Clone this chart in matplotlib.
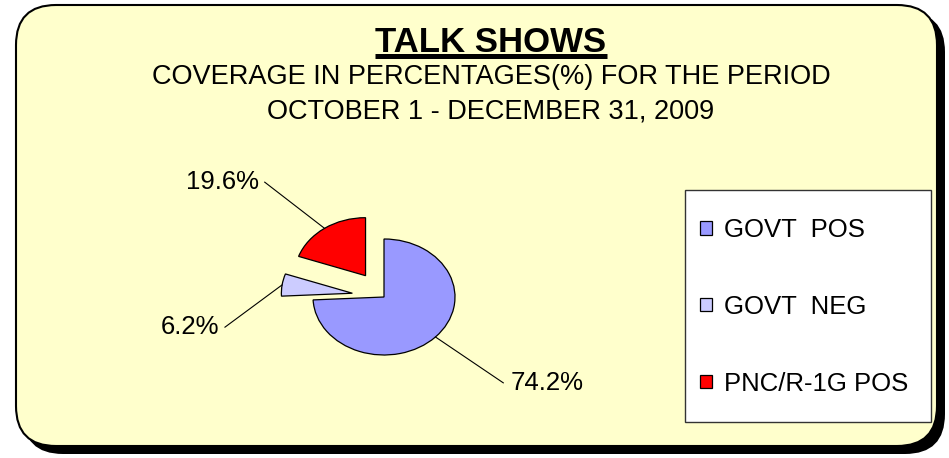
import numpy as np
import matplotlib
matplotlib.use("Agg")
import matplotlib.pyplot as plt
from matplotlib.patches import FancyBboxPatch, Rectangle

# data
categories = ["GOVT  POS", "GOVT  NEG", "PNC/R-1G POS"]
shares = [74.2, 6.2, 19.6]
share_labels = ["74.2%", "6.2%", "19.6%"]
colors = ["#9999FF", "#CCCCFF", "#FF0000"]
explode = [0, 0.45, 0.45]

title = "TALK SHOWS"
subtitle = ["COVERAGE IN PERCENTAGES(%) FOR THE PERIOD",
            "OCTOBER 1 - DECEMBER 31, 2009"]

# where the leader lines of the labels end (pie data units)
label_ends = [(1.68, -1.48), (-2.24, -0.52), (-1.68, 1.98)]

plt.rcParams["font.family"] = ["Liberation Sans", "DejaVu Sans"]

W, H = 949, 458
fig = plt.figure(figsize=(W / 100, H / 100), dpi=100)
fig.patch.set_facecolor("white")

# background axes in pixel coordinates
bg = fig.add_axes([0, 0, 1, 1])
bg.set_xlim(0, W)
bg.set_ylim(H, 0)
bg.axis("off")

bg.add_patch(FancyBboxPatch((23, 12), 922, 442, boxstyle="round,pad=0,rounding_size=40",
                            fc="black", ec="black", lw=0))
bg.add_patch(FancyBboxPatch((16, 5), 921, 441, boxstyle="round,pad=0,rounding_size=40",
                            fc="#FFFFCC", ec="black", lw=1.5))
bg.add_patch(Rectangle((685, 190), 246, 232, fc="white", ec="#333333", lw=1))

t = bg.text(491, 42, title, ha="center", va="center", fontsize=25, fontweight="bold")
bg.text(491, 77, subtitle[0], ha="center", va="center", fontsize=19.5)
bg.text(491, 112, subtitle[1], ha="center", va="center", fontsize=19.5)

# pie axes: 71 px per unit across, 58 px per unit up
cx, cy = 384, 297
ux, uy = 71, 58
xr, yr = 3.0, 2.6
ax = fig.add_axes([(cx - xr * ux) / W, (H - cy - yr * uy) / H, 2 * xr * ux / W, 2 * yr * uy / H])
wedges, _ = ax.pie(shares, colors=colors, explode=explode, startangle=90, counterclock=False,
                   wedgeprops=dict(edgecolor="black", linewidth=0.9))
ax.set_aspect("auto")
ax.set_xlim(-xr, xr)
ax.set_ylim(-yr, yr)

for w, lab, (ex, ey) in zip(wedges, share_labels, label_ends):
    mid = np.deg2rad((w.theta1 + w.theta2) / 2)
    px = w.center[0] + w.r * np.cos(mid)
    py = w.center[1] + w.r * np.sin(mid)
    ax.plot([px, ex], [py, ey], color="black", lw=0.8)
    if ex > 0:
        ax.text(ex + 0.1, ey, lab, ha="left", va="center", fontsize=18.5)
    else:
        ax.text(ex - 0.08, ey, lab, ha="right", va="center", fontsize=18.5)

fig.legend(wedges, categories, loc="center left", bbox_to_anchor=(700 / W, (H - 307) / H),
           frameon=False, fontsize=18.5, handlelength=0.45, handleheight=0.42,
           handletextpad=0.5, labelspacing=2.05, borderpad=0, borderaxespad=0)

# underline the title
fig.canvas.draw()
bb = t.get_window_extent().transformed(bg.transData.inverted())
bg.plot([bb.x0, bb.x1], [56, 56], color="black", lw=3.6, solid_capstyle="butt")

fig.savefig("out.png", dpi=100)
